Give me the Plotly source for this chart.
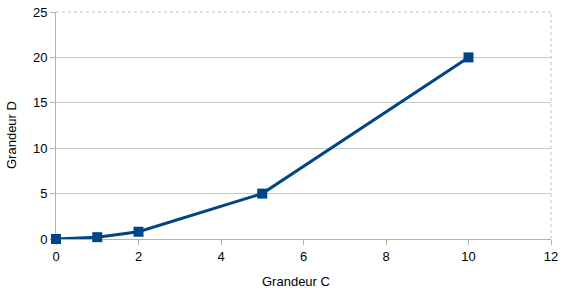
import plotly.graph_objects as go

x_vals = [0, 1, 2, 5, 10]
y_vals = [0, 0.2, 0.8, 5, 20]
x_title = "Grandeur C"
y_title = "Grandeur D"

W, H = 566, 290
ML, MR, MT, MB = 56, 15, 12, 51

fig = go.Figure()
fig.add_trace(go.Scatter(
    x=x_vals, y=y_vals, mode="lines+markers",
    line=dict(color="#004586", width=3),
    marker=dict(symbol="square", size=10, color="#004586"),
    showlegend=False, cliponaxis=False,
))

axis_font = dict(family="Liberation Sans, Arial, sans-serif", size=13, color="#000000")
fig.update_layout(
    width=W, height=H,
    margin=dict(l=ML, r=MR, t=MT, b=MB),
    paper_bgcolor="white", plot_bgcolor="white",
    font=axis_font,
    xaxis=dict(
        range=[0, 12], dtick=2, showgrid=False, zeroline=False,
        showline=True, linecolor="#b3b3b3", linewidth=1,
        ticks="outside", ticklen=5, tickcolor="#b3b3b3",
        automargin=False, tickfont=axis_font, layer="below traces",
    ),
    yaxis=dict(
        range=[0, 25], dtick=5, showgrid=True, gridcolor="#c4cac4", gridwidth=1,
        zeroline=False, showline=True, linecolor="#b3b3b3", linewidth=1,
        ticks="outside", ticklen=5, tickcolor="#b3b3b3",
        automargin=False, tickfont=axis_font, layer="below traces",
    ),
)
# dotted top and right border
fig.add_shape(type="line", xref="paper", yref="paper", x0=0, x1=1, y0=1, y1=1,
              line=dict(color="#c0c0c0", width=1, dash="dot"), layer="below")
fig.add_shape(type="line", xref="paper", yref="paper", x0=1, x1=1, y0=0, y1=1,
              line=dict(color="#c0c0c0", width=1, dash="dot"), layer="below")

pw = W - ML - MR
ph = H - MT - MB
# axis titles as annotations placed in pixel terms
fig.add_annotation(text=x_title, showarrow=False, font=axis_font,
                   xref="paper", yref="paper",
                   x=(296 - ML) / pw, y=-(281 - (H - MB)) / ph,
                   xanchor="center", yanchor="middle")
fig.add_annotation(text=y_title, showarrow=False, font=axis_font, textangle=-90,
                   xref="paper", yref="paper",
                   x=-(ML - 11) / pw, y=(H - MB - 135) / ph,
                   xanchor="center", yanchor="middle")

fig.write_html("out.html")
